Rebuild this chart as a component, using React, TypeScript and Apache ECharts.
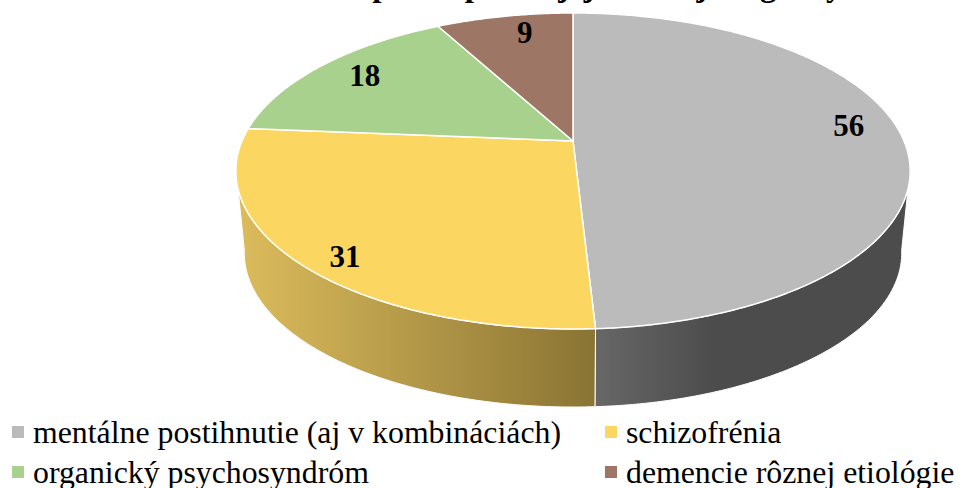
import React, { useEffect, useRef } from "react";
import * as echarts from "echarts";

const categories = [
  "mentálne postihnutie (aj v kombináciách)",
  "schizofrénia",
  "organický psychosyndróm",
  "demencie rôznej etiológie",
];
const values = [56, 31, 18, 9];
const topColors = ["#BBBBBB", "#FBD661", "#A9D18E", "#9E7665"];
const titleText = "Rozdelenie príčin podľa jej hlavnej diagnózy";

// label placement within each slice: radius fraction and angle nudge in degrees
const labelRadius = [0.857, 0.895, 0.832, 0.845];
const labelAngleNudge = [-5.6, -3.5, 1.4, 2.7];

// perspective projection of the pie disc onto the screen
const CX = 573;
const CY = 141;
const D = 331;
const A = 152.3;
const C = -0.19;
const WALL_SHRINK = 0.975;
const WALL_DROP = 82.7;
const FONT = '"Liberation Serif", "Times New Roman", serif';

const total = values.reduce((s, v) => s + v, 0);
const startOf = (i: number) => (values.slice(0, i).reduce((s, v) => s + v, 0) / total) * 360;

function project(deg: number, r = 1): [number, number] {
  const t = (deg * Math.PI) / 180;
  const u = Math.sin(t) * r;
  const v = -Math.cos(t) * r;
  const den = 1 + C * v;
  return [(D * u) / den, (A * v) / den];
}
const toTop = (p: [number, number]): number[] => [CX + p[0], CY + p[1]];
const toBottom = (p: [number, number]): number[] => [CX + p[0] * WALL_SHRINK, CY + p[1] * WALL_SHRINK + WALL_DROP];

function arc(a0: number, a1: number): [number, number][] {
  const n = Math.max(2, Math.ceil(Math.abs(a1 - a0) * 2));
  const out: [number, number][] = [];
  for (let i = 0; i <= n; i++) out.push(project(a0 + ((a1 - a0) * i) / n));
  return out;
}

const wallFills = [
  () =>
    new echarts.graphic.LinearGradient(0, 0, 1, 0, [
      { offset: 0, color: "#676767" },
      { offset: 0.38, color: "#4C4C4C" },
      { offset: 1, color: "#4C4C4C" },
    ]),
  () =>
    new echarts.graphic.LinearGradient(0, 0, 1, 0, [
      { offset: 0, color: "#DCBC5C" },
      { offset: 1, color: "#8A7434" },
    ]),
];

function makeSeries(index: number) {
  return {
    type: "custom",
    name: categories[index],
    coordinateSystem: "none",
    itemStyle: { color: topColors[index] },
    data: [{ name: categories[index], value: values[index] }],
    renderItem: (_p: any, api: any) => {
      const value = api.value(0);
      const a0 = startOf(index);
      const a1 = a0 + (value / total) * 360;
      const rim = arc(a0, a1);
      const children: any[] = [
        {
          type: "polygon",
          z2: 2,
          shape: { points: [[CX, CY], ...rim.map(toTop)] },
          style: { fill: topColors[index], stroke: "#FFFFFF", lineWidth: 1.5, lineJoin: "round" },
        },
      ];
      const w0 = Math.max(a0, 100);
      const w1 = Math.min(a1, 260);
      if (w1 > w0) {
        const seg = arc(w0, w1);
        children.push({
          type: "polygon",
          z2: 1,
          shape: { points: [...seg.map(toTop), ...seg.slice().reverse().map(toBottom)] },
          style: { fill: wallFills[index](), stroke: "#FFFFFF", lineWidth: 1 },
        });
      }
      const mid = (a0 + a1) / 2 + labelAngleNudge[index];
      const lp = toTop(project(mid, labelRadius[index]));
      children.push({
        type: "text",
        z2: 3,
        x: lp[0],
        y: lp[1],
        style: {
          text: String(value),
          fill: "#000000",
          font: `bold 31px ${FONT}`,
          align: "center",
          verticalAlign: "middle",
        },
      });
      return { type: "group", children };
    },
  };
}

const legendText = { fontFamily: FONT, fontSize: 31.8, lineHeight: 30, color: "#000000", padding: [0, 0, 0, 4] };

const legendBase = {
  orient: "vertical",
  top: 416,
  height: 120,
  padding: 0,
  itemWidth: 12,
  itemHeight: 12,
  itemGap: 8,
  icon: "rect",
  selectedMode: false,
  textStyle: legendText,
};

export default function App() {
  const ref = useRef<HTMLDivElement>(null);
  useEffect(() => {
    const chart = echarts.init(ref.current!, undefined, { renderer: "svg" });
    chart.setOption({
      animation: false,
      backgroundColor: "#FFFFFF",
      title: {
        text: titleText,
        left: 210,
        top: -32,
        padding: 0,
        textStyle: { fontFamily: FONT, fontWeight: "bold", fontSize: 33, color: "#000000" },
      },
      legend: [
        { ...legendBase, left: 12, data: [categories[0], categories[2]] },
        { ...legendBase, left: 605, data: [categories[1], categories[3]] },
      ],
      series: categories.map((_, i) => makeSeries(i)),
    });
    return () => chart.dispose();
  }, []);
  return <div ref={ref} style={{ position: "absolute", left: 0, top: 0, width: 959, height: 488 }} />;
}
